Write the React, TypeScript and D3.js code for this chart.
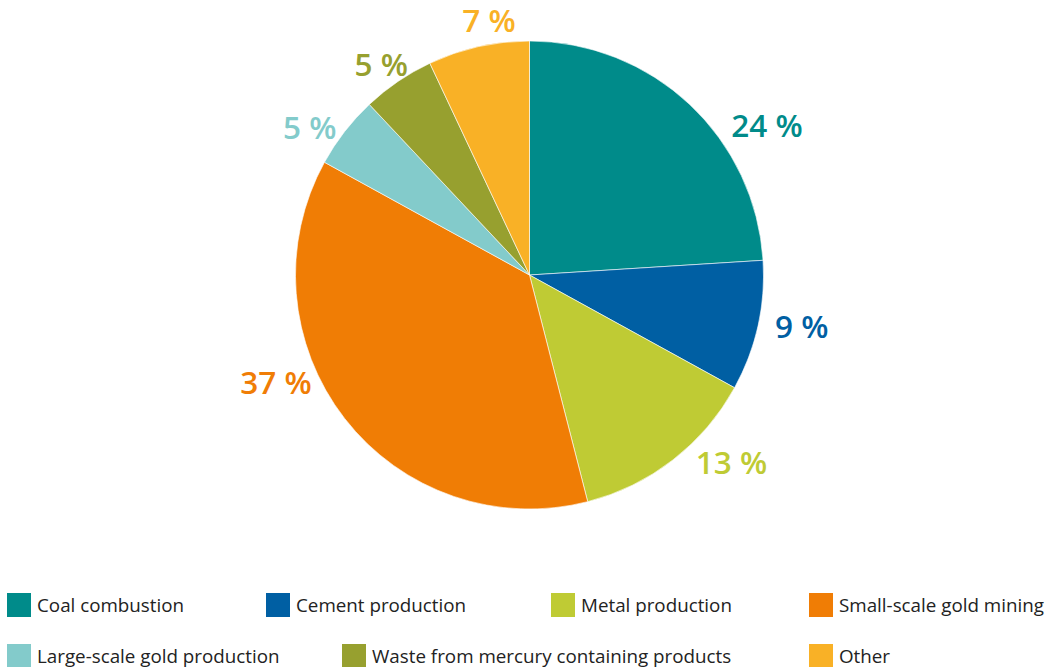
import React from "react";
import * as d3 from "d3";

const categories = [
  "Coal combustion",
  "Cement production",
  "Metal production",
  "Small-scale gold mining",
  "Large-scale gold production",
  "Waste from mercury containing products",
  "Other",
];
const values = [24, 9, 13, 37, 5, 5, 7];
const colors = ["#008B8A", "#005FA3", "#BFCB34", "#F07D05", "#83CBCB", "#97A02F", "#F9B126"];

// layout (not data)
const W = 1054;
const H = 667;
const CX = 529.5;
const CY = 275;
const R = 234;
const LABEL_R_RIGHT = 251;
const LABEL_R_LEFT = 243;
const LABEL_R_TOP = 255;
const labelNudgeDeg = [10.3, -0.7, -3.7, 11.5, -0.4, 4.2, 9.5];
const legendPos = [
  [7, 593],
  [266, 593],
  [551, 593],
  [809, 593],
  [7, 644],
  [342, 644],
  [809, 644],
];

export default function App() {
  const pie = d3.pie<number>().sort(null).value((d) => d)(values);
  const arc = d3.arc<d3.PieArcDatum<number>>().innerRadius(0).outerRadius(R);

  return (
    <svg
      width={W}
      height={H}
      style={{ position: "absolute", left: 0, top: 0, display: "block" }}
      fontFamily="'Open Sans', sans-serif"
    >
      <rect width={W} height={H} fill="#fff" />
      <g transform={`translate(${CX},${CY})`}>
        {pie.map((p, i) => (
          <path key={i} d={arc(p) || ""} fill={colors[i]} stroke="#fff" strokeWidth={0.6} />
        ))}
        {pie.map((p, i) => {
          const mid = (p.startAngle + p.endAngle) / 2 + (labelNudgeDeg[i] * Math.PI) / 180;
          const right = Math.sin(mid) > 0;
          const top = Math.cos(mid) > 0.95;
          const lr = top ? LABEL_R_TOP : right ? LABEL_R_RIGHT : LABEL_R_LEFT;
          const x = Math.sin(mid) * lr;
          const y = -Math.cos(mid) * lr;
          return (
            <text
              key={"l" + i}
              x={x}
              y={y}
              dy="0.36em"
              textAnchor={right ? "start" : "end"}
              fill={colors[i]}
              fontSize={31.5}
              fontWeight={600}
            >
              {`${values[i]} %`}
            </text>
          );
        })}
      </g>
      <g>
        {categories.map((c, i) => {
          const [lx, ly] = legendPos[i];
          return (
            <g key={"leg" + i} transform={`translate(${lx},${ly})`}>
              <rect width={24} height={24} fill={colors[i]} />
              <text x={30} y={12} dy="0.36em" fontSize={18.8} fill="#222">
                {c}
              </text>
            </g>
          );
        })}
      </g>
    </svg>
  );
}
